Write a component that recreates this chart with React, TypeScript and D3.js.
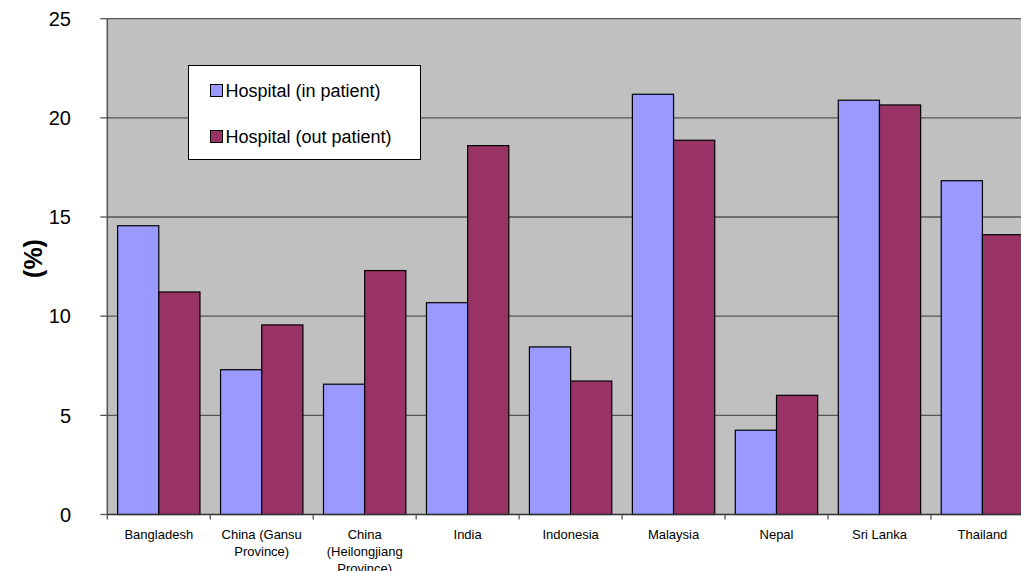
import React from "react";
import * as d3 from "d3";

const categories: string[][] = [
  ["Bangladesh"],
  ["China (Gansu", "Province)"],
  ["China", "(Heilongjiang", "Province)"],
  ["India"],
  ["Indonesia"],
  ["Malaysia"],
  ["Nepal"],
  ["Sri Lanka"],
  ["Thailand"],
];
const inPatient: number[] = [14.56, 7.3, 6.57, 10.68, 8.45, 21.19, 4.25, 20.89, 16.83];
const outPatient: number[] = [11.22, 9.56, 12.3, 18.6, 6.73, 18.87, 6.01, 20.65, 14.11];
const seriesNames: string[] = ["Hospital (in patient)", "Hospital (out patient)"];
const seriesColors: string[] = ["#9999FF", "#993366"];
const yTicks: number[] = [0, 5, 10, 15, 20, 25];

const W = 1021;
const H = 571;
const plotLeft = 107.3;
const plotRight = 1033.9;
const plotTop = 18.7;
const plotBottom = 514.5;
const FONT = "'Liberation Sans', Arial, sans-serif";

export default function App() {
  const keys = categories.map((c) => c.join(" "));
  const x = d3.scaleBand<string>().domain(keys).range([plotLeft, plotRight]).paddingInner(0).paddingOuter(0);
  const xs = d3.scaleBand<string>().domain(seriesNames).range([0, x.bandwidth()]).paddingInner(0).paddingOuter(0.25);
  const y = d3.scaleLinear().domain([0, 25]).range([plotBottom, plotTop]);
  const series = [inPatient, outPatient];

  return (
    <svg width={W} height={H} style={{ position: "absolute", left: 0, top: 0, background: "#fff" }} fontFamily={FONT}>
      <rect x={plotLeft} y={plotTop} width={plotRight - plotLeft} height={plotBottom - plotTop} fill="#C0C0C0" />
      {yTicks.filter((t) => t > 0).map((t) => (
        <line key={"g" + t} x1={plotLeft} x2={plotRight} y1={y(t)} y2={y(t)} stroke="#555" strokeWidth={1.3} />
      ))}
      {keys.map((k, i) =>
        series.map((vals, s) => (
          <rect
            key={k + s}
            x={(x(k) as number) + (xs(seriesNames[s]) as number)}
            y={y(vals[i])}
            width={xs.bandwidth()}
            height={plotBottom - y(vals[i])}
            fill={seriesColors[s]}
            stroke="#000"
            strokeWidth={1.2}
          />
        ))
      )}
      {/* axes */}
      <line x1={plotLeft} x2={plotLeft} y1={plotTop} y2={plotBottom} stroke="#555" strokeWidth={1.5} />
      <line x1={plotLeft} x2={plotRight} y1={plotBottom} y2={plotBottom} stroke="#333" strokeWidth={1.5} />
      {yTicks.map((t) => (
        <g key={"yt" + t}>
          <line x1={plotLeft - 7} x2={plotLeft} y1={y(t)} y2={y(t)} stroke="#555" strokeWidth={1.3} />
          <text x={71} y={y(t)} dy="0.36em" textAnchor="end" fontSize={20} fill="#000">
            {t}
          </text>
        </g>
      ))}
      {keys.map((k, i) => (
        <line key={"xt" + i} x1={x(k) as number} x2={x(k) as number} y1={plotBottom} y2={plotBottom + 5} stroke="#555" strokeWidth={1.3} />
      ))}
      {categories.map((lines, i) => (
        <text key={"xl" + i} x={(x(keys[i]) as number) + x.bandwidth() / 2} textAnchor="middle" fontSize={13} fill="#000">
          {lines.map((ln, j) => (
            <tspan key={j} x={(x(keys[i]) as number) + x.bandwidth() / 2} y={539 + j * 17}>
              {ln}
            </tspan>
          ))}
        </text>
      ))}
      <text transform={`translate(41.5, 258.5) rotate(-90)`} textAnchor="middle" fontSize={25} fontWeight="bold" fill="#000">
        (%)
      </text>
      {/* legend */}
      <rect x={188.5} y={65.5} width={232} height={94} fill="#fff" stroke="#000" strokeWidth={1} />
      {seriesNames.map((n, s) => (
        <g key={"lg" + s}>
          <rect x={210.5} y={84.5 + s * 46} width={12} height={12} fill={seriesColors[s]} stroke="#000" strokeWidth={1} />
          <text x={225.5} y={96.5 + s * 46} fontSize={18} fill="#000">
            {n}
          </text>
        </g>
      ))}
    </svg>
  );
}
